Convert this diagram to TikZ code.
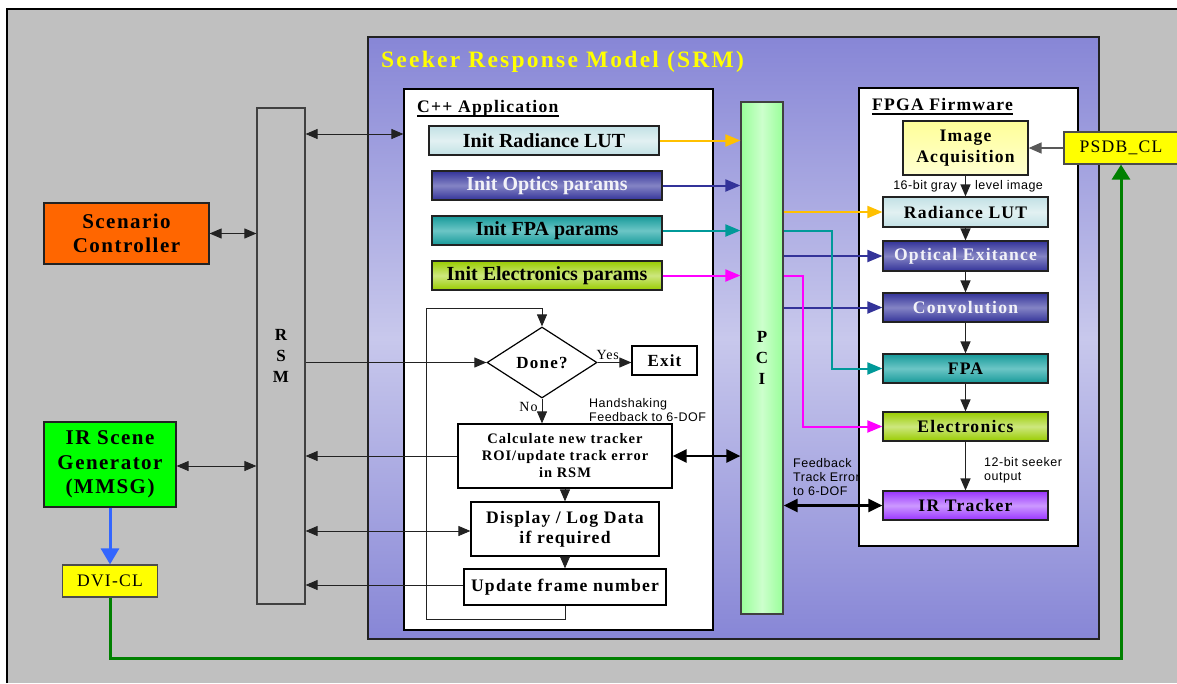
\documentclass[tikz,border=0pt]{standalone}
\usepackage{fontspec}
\setmainfont{Liberation Serif}
\newfontfamily\trk{Liberation Serif}[LetterSpace=7]
\newfontfamily\trkwide{Liberation Serif}[LetterSpace=9.5]
\newfontfamily\lab{Liberation Sans}[LetterSpace=4]
\usetikzlibrary{arrows.meta,calc,shapes.geometric}

\definecolor{bgGray}{HTML}{C0C0C0}
\definecolor{srmTop}{HTML}{8786D6}
\definecolor{srmMid}{HTML}{C8C8EC}
\definecolor{lineDk}{HTML}{222222}
\definecolor{cyanE}{HTML}{C2E1E5}
\definecolor{cyanM}{HTML}{E2F1F2}
\definecolor{blueE}{HTML}{333399}
\definecolor{blueM}{HTML}{8484C4}
\definecolor{tealE}{HTML}{169999}
\definecolor{tealM}{HTML}{6CC6C6}
\definecolor{limeE}{HTML}{99CC00}
\definecolor{limeM}{HTML}{CDE77E}
\definecolor{purpE}{HTML}{9933FF}
\definecolor{purpM}{HTML}{CC99FF}
\definecolor{acqTop}{HTML}{FFFF99}
\definecolor{acqBot}{HTML}{FFFFD0}
\definecolor{pciE}{HTML}{99FF99}
\definecolor{pciM}{HTML}{CCFFCC}
\definecolor{arrYel}{HTML}{FFC000}
\definecolor{arrBlue}{HTML}{333399}
\definecolor{arrTeal}{HTML}{009999}
\definecolor{arrMag}{HTML}{FF00FF}
\definecolor{scenOr}{HTML}{FF6600}
\definecolor{irsGreen}{HTML}{00FF00}
\definecolor{dviBlue}{HTML}{3366FF}
\definecolor{loopGreen}{HTML}{008000}
\definecolor{padYel}{HTML}{FFFF00}
\definecolor{softWhite}{HTML}{F2F2F8}

\newcommand\fInit{\fontsize{20}{24}\selectfont\bfseries}
\newcommand\fFw{\trk\fontsize{17.6}{21}\selectfont\bfseries}
\newcommand\fFlow{\trk\fontsize{17.6}{20}\selectfont\bfseries}
\newcommand\fCalc{\trk\fontsize{14.5}{17}\selectfont\bfseries}
\newcommand\fSide{\trk\fontsize{21}{24.5}\selectfont\bfseries}
\newcommand\fBus{\fontsize{17}{21}\selectfont\bfseries}
\newcommand\fPad{\trk\fontsize{17.6}{20}\selectfont}
\newcommand\fNote{\lab\fontsize{12.5}{14}\selectfont}
\newcommand\fHead{\trk\fontsize{17.6}{20}\selectfont\bfseries}

\tikzset{
  box/.style={draw=lineDk, line width=1.2pt, inner sep=0pt, align=center},
  vshade/.style 2 args={top color=#1, bottom color=#1, middle color=#2},
  initbox/.style={box, minimum width=230pt, minimum height=29pt, font=\fInit},
  fwbox/.style={box, minimum width=165pt, font=\fFw},
  flowbox/.style={box, draw=black, fill=white, font=\fFlow},
  sidebox/.style={box, font=\fSide},
  busbar/.style={box, draw=black!75, font=\fBus},
  padbox/.style={box, draw=black!70, fill=padYel, font=\fPad},
  note/.style={inner sep=0pt, align=left, font=\fNote},
  thinarr/.style={draw=lineDk, line width=0.9pt, -{Triangle[length=12pt,width=10pt]}},
  thinboth/.style={draw=lineDk, line width=0.9pt, {Triangle[length=12pt,width=10pt]}-{Triangle[length=12pt,width=10pt]}},
  feed/.style={line width=2pt, -{Triangle[length=15pt,width=12pt]}},
  databoth/.style={draw=black, line width=2.6pt, {Triangle[length=14pt,width=13pt]}-{Triangle[length=14pt,width=13pt]}},
}

\begin{document}
\begin{tikzpicture}[x=1pt,y=-1pt]
\useasboundingbox (0,0) rectangle (1177,683);
% page and outer frame
\fill[white] (0,0) rectangle (1177,683);
\fill[bgGray] (7,9) rectangle (1177,683);
\draw[line width=2pt] (7,683) -- (7,9) -- (1177,9);

% external blocks
\node[sidebox, fill=scenOr, minimum width=165pt, minimum height=61pt] (scen) at (126.5,233.5) {Scenario\\Controller};
\node[sidebox, fill=irsGreen, minimum width=132pt, minimum height=85pt] (irsg) at (110,464.5) {IR Scene\\Generator\\(MMSG)};
\node[padbox, minimum width=95pt, minimum height=32pt] (dvi) at (110,581) {DVI-CL};
\node[busbar, fill=bgGray, minimum width=48pt, minimum height=496pt] (rsm) at (281,356) {R\\S\\M};

% seeker response model frame
\node[box, vshade={srmTop}{srmMid}, minimum width=731pt, minimum height=602pt] (srm) at (733.5,338) {};
\node[anchor=base west, inner sep=0pt, text=padYel, font=\trkwide\fontsize{23.5}{26}\selectfont\bfseries] (title) at (381,67) {Seeker Response Model (SRM)};

% C++ application
\node[box, draw=black, fill=white, minimum width=309pt, minimum height=541pt] (cpp) at (558.5,359.5) {};
\node[anchor=base west, inner sep=0pt, font=\fHead] (cpph) at (417,112) {C++ Application};
\draw[line width=1.4pt] ([yshift=-4pt]cpph.base west) -- ([yshift=-4pt]cpph.base east);

\node[initbox, vshade={cyanE}{cyanM}] (irl) at (544,140.5) {Init Radiance LUT};
\node[initbox, vshade={blueE}{blueM}, text=softWhite] (iop) at (547,185.5) {Init Optics params};
\node[initbox, vshade={tealE}{tealM}] (ifpa) at (547,230.5) {Init FPA params};
\node[initbox, vshade={limeE}{limeM}] (iel) at (547,275.5) {Init Electronics params};

\node[flowbox, diamond, aspect=1.55, minimum width=110pt, minimum height=71pt, font=\trk\fontsize{17}{20}\selectfont\bfseries] (done) at (542,362.5) {Done?};
\node[flowbox, minimum width=65pt, minimum height=29pt, font=\trk\fontsize{17}{20}\selectfont\bfseries] (exit) at (664.5,360.5) {Exit};
\node[flowbox, minimum width=214pt, minimum height=64pt, font=\fCalc] (calc) at (565,456) {Calculate new tracker\\ROI/update track error\\in RSM};
\node[flowbox, minimum width=188pt, minimum height=54pt] (disp) at (565,529) {Display / Log Data\\if required};
\node[flowbox, minimum width=202pt, minimum height=36pt] (upd) at (565,587) {Update frame number};

% PCI bus
\node[busbar, left color=pciE, right color=pciE, middle color=pciM, minimum width=42pt, minimum height=512pt] (pci) at (762,358) {P\\C\\I};

% FPGA firmware
\node[box, draw=black, fill=white, minimum width=219pt, minimum height=458pt] (fpga) at (968.5,317) {};
\node[anchor=base west, inner sep=0pt, font=\fHead] (fpgah) at (872,110) {FPGA Firmware};
\draw[line width=1.4pt] ([yshift=-4pt]fpgah.base west) -- ([yshift=-4pt]fpgah.base east);

\node[box, top color=acqTop, bottom color=acqBot, minimum width=125pt, minimum height=54pt, font=\fFw] (imgacq) at (965.5,148) {Image\\Acquisition};
\node[padbox, minimum width=114pt, minimum height=32pt] (psdb) at (1121,148) {PSDB\_CL};
\node[fwbox, vshade={cyanE}{cyanM}, minimum height=30pt] (rlut) at (965.5,212) {Radiance LUT};
\node[fwbox, vshade={blueE}{blueM}, text=softWhite, minimum height=30pt] (oexit) at (965.5,256) {Optical Exitance};
\node[fwbox, vshade={blueE}{blueM}, text=softWhite, minimum height=29pt] (conv) at (965.5,307.5) {Convolution};
\node[fwbox, vshade={tealE}{tealM}, minimum height=29pt] (fpa) at (965.5,368.5) {FPA};
\node[fwbox, vshade={limeE}{limeM}, minimum height=29pt] (elec) at (965.5,426.5) {Electronics};
\node[fwbox, vshade={purpE}{purpM}, minimum height=29pt] (irtr) at (965.5,505.5) {IR Tracker};

% notes
\node[note, anchor=base east] (gray) at (957,189) {16-bit gray};
\node[note, anchor=base west] (level) at (975,189) {level image};
\node[note, anchor=north west] (seek) at (984,457) {12-bit seeker\\output};
\node[note, anchor=north west] (fbk) at (793,458) {Feedback\\Track Error\\to 6-DOF};
\node[note, anchor=north west] (hand) at (589,398) {Handshaking\\Feedback to 6-DOF};

% RSM links
\draw[thinboth] (rsm.east |- 0,134) -- (cpp.west |- 0,134);
\draw[thinboth] (scen.east) -- (scen.east -| rsm.west);
\draw[thinboth] (irsg.east |- 0,466) -- (rsm.west |- 0,466);
\draw[thinarr] (rsm.east |- done.west) -- (done.west);
\draw[thinarr] (calc.west) -- (calc.west -| rsm.east);
\draw[thinboth] (rsm.east |- 0,531) -- (disp.west |- 0,531);
\draw[thinarr] (upd.west |- 0,585) -- (rsm.east |- 0,585);

% flow of the main loop
\draw[thinarr] (done.east) -- (done.east -| exit.west) node[pos=0.3, above=2pt, inner sep=0pt, font=\trk\fontsize{14}{16}\selectfont] (yes) {Yes};
\draw[thinarr] (done.south) -- (calc.north -| done.south) node[pos=0.35, left=4pt, inner sep=0pt, font=\trk\fontsize{14}{16}\selectfont] (no) {No};
\draw[thinarr] (calc.south) -- (disp.north);
\draw[thinarr] (disp.south) -- (upd.north);
\coordinate (lpA) at (426,619);
\coordinate (lpB) at (542,308);
\draw[thinarr] (upd.south) |- (lpA) |- (lpB) -- (done.north);
\draw[databoth] (calc.east) -- (calc.east -| pci.west);

% parameter initialisation over PCI
\draw[feed, arrYel] (irl.east) -- (irl.east -| pci.west);
\draw[feed, arrBlue] (iop.east) -- (iop.east -| pci.west);
\draw[feed, arrTeal] (ifpa.east) -- (ifpa.east -| pci.west);
\draw[feed, arrMag] (iel.east) -- (iel.east -| pci.west);

\draw[feed, arrYel] (pci.east |- rlut.west) -- (rlut.west);
\draw[feed, arrBlue] (pci.east |- oexit.west) -- (oexit.west);
\draw[feed, arrBlue] (pci.east |- conv.west) -- (conv.west);
\draw[feed, arrTeal] (pci.east |- ifpa.east) -- ++(48,0) |- (fpa.west);
\draw[feed, arrMag] (pci.east |- iel.east) -- ++(19,0) |- (elec.west);

% firmware pipeline
\draw[draw=black!65, line width=1.4pt, -{Triangle[length=13pt,width=11pt]}] (psdb.west) -- (imgacq.east);
\draw[thinarr, line width=1.2pt] (imgacq.south) -- (rlut.north);
\draw[thinarr, line width=1.2pt] (rlut.south) -- (oexit.north);
\draw[thinarr, line width=1.2pt] (oexit.south) -- (conv.north);
\draw[thinarr, line width=1.2pt] (conv.south) -- (fpa.north);
\draw[thinarr, line width=1.2pt] (fpa.south) -- (elec.north);
\draw[thinarr, line width=1.2pt] (elec.south) -- (irtr.north);
\draw[databoth] (irtr.west) -- (irtr.west -| pci.east);

% video links
\draw[dviBlue, line width=3pt, -{Triangle[length=16pt,width=18pt]}] (irsg.south) -- (dvi.north);
\draw[loopGreen, line width=3pt, -{Triangle[length=15pt,width=18pt]}] (dvi.south) -- ++(0,61) -| (psdb.south);
\end{tikzpicture}
\end{document}
